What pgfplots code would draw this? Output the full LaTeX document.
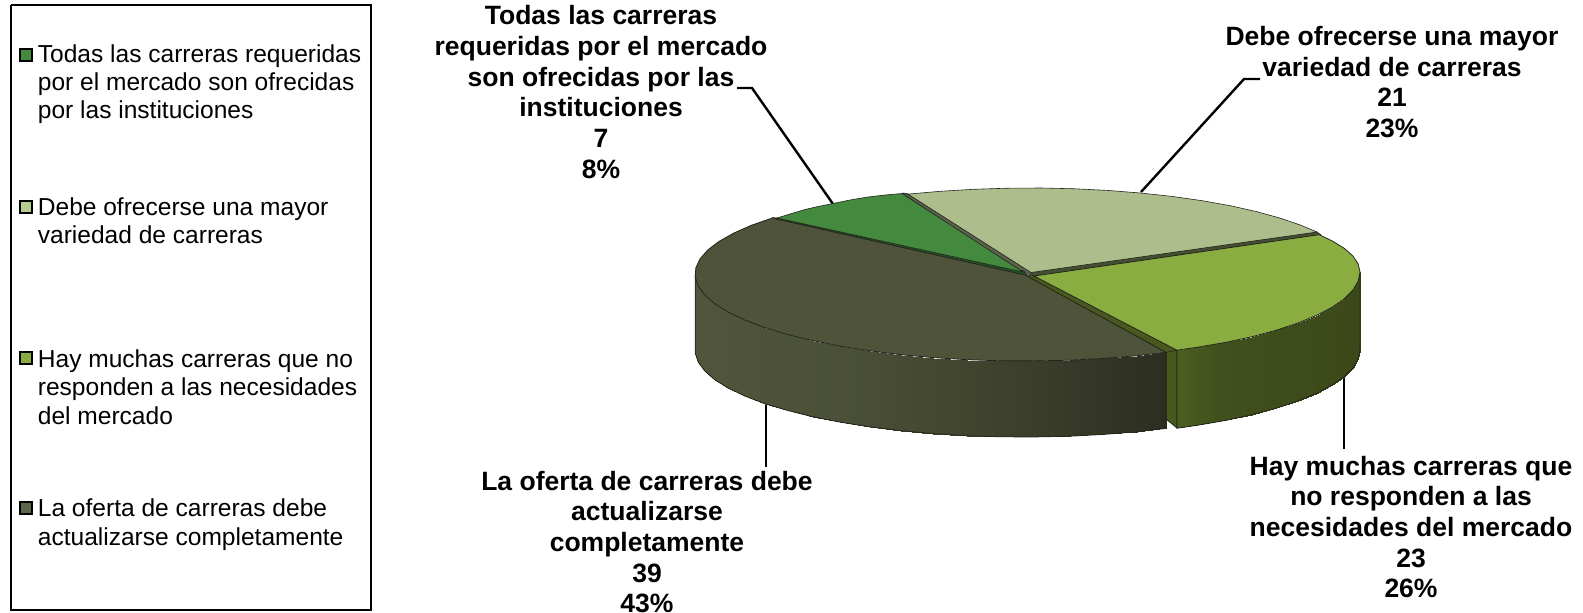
\documentclass[border=0pt]{standalone}
\usepackage{fontspec}
\setmainfont{Liberation Sans}
\usepackage{pgfplots}
\pgfplotsset{compat=1.18}
\definecolor{cT}{RGB}{67,137,62}
\definecolor{cL}{RGB}{173,189,140}
\definecolor{cG}{RGB}{138,173,65}
\definecolor{cD}{RGB}{78,83,57}
\definecolor{edge}{RGB}{35,38,28}
\tikzset{lab/.style={align=center, inner sep=0pt, font=\fontsize{13.25}{15.35}\selectfont\bfseries},
         leg/.style={anchor=west, align=left, inner sep=0pt, font=\fontsize{12.27}{14.15}\selectfont}}
\begin{document}
\begin{tikzpicture}
\clip (0,0) rectangle (791.5pt,306pt);
\begin{axis}[
  anchor=south west, at={(0pt,0pt)},
  width=791.5pt, height=306pt, scale only axis,
  xmin=0, xmax=1583, ymin=0, ymax=612, y dir=reverse,
  hide axis, clip=false,
  point meta min=695, point meta max=1360,
  colormap={pie}{rgb255(0pt)=(80,86,60) rgb255(155pt)=(74,79,55) rgb255(305pt)=(62,66,44) rgb255(473pt)=(43,46,32) rgb255(475pt)=(78,97,33) rgb255(525pt)=(65,80,28) rgb255(665pt)=(60,72,25)},
]
% legend frame
\addplot[draw=black, line width=1.1pt] coordinates {(11,5) (371,5) (371,610) (11,610) (11,5)};
% legend swatches
\addplot[only marks, mark=square*, mark size=3.1pt, mark options={fill=cT, draw=black, line width=.9pt}] coordinates {(26,55)};
\addplot[only marks, mark=square*, mark size=3.1pt, mark options={fill={rgb,255:red,183;green,204;blue,145}, draw=black, line width=.9pt}] coordinates {(26,207)};
\addplot[only marks, mark=square*, mark size=3.1pt, mark options={fill=cG, draw=black, line width=.9pt}] coordinates {(26,358)};
\addplot[only marks, mark=square*, mark size=3.1pt, mark options={fill={rgb,255:red,95;green,103;blue,75}, draw=black, line width=.9pt}] coordinates {(26,508)};
% leaders
\addplot[draw=black, line width=1.2pt] coordinates {(737,88) (752,88) (833,204)};
\addplot[draw=black, line width=1.2pt] coordinates {(1141,192) (1244,79) (1260,79)};
\addplot[draw=black, line width=1.2pt] coordinates {(1344,376) (1344,449)};
\addplot[draw=black, line width=1.2pt] coordinates {(766,402) (766,467)};
% green slice: cut face and side
\addplot[fill={rgb,255:red,70;green,88;blue,30}, draw=edge, line width=.4pt] coordinates {(1166,350.5) (1177,350.2) (1177,428) (1166,419) (1166,350.5)};
\addplot[patch, patch type=rectangle, shader=interp, point meta=x] coordinates {
(1360,272) (1358.2,281.1) (1358.2,359.1) (1360,350)
(1358.2,281.1) (1352.9,290.1) (1352.9,368.1) (1358.2,359.1)
(1352.9,290.1) (1344.1,298.9) (1344.1,376.9) (1352.9,368.1)
(1344.1,298.9) (1331.8,307.4) (1331.8,385.4) (1344.1,376.9)
(1331.8,307.4) (1316.3,315.5) (1316.3,393.5) (1331.8,385.4)
(1316.3,315.5) (1297.7,323.1) (1297.7,401.1) (1316.3,393.5)
(1297.7,323.1) (1276.3,330.2) (1276.3,408.2) (1297.7,401.1)
(1276.3,330.2) (1252.1,336.7) (1252.1,414.7) (1276.3,408.2)
(1252.1,336.7) (1225.6,342.4) (1225.6,420.4) (1252.1,414.7)
(1225.6,342.4) (1197,347.3) (1197,425.3) (1225.6,420.4)
(1197,347.3) (1176.9,350.2) (1176.9,428.2) (1197,425.3)
};
\addplot[draw=edge, line width=.4pt] coordinates {(1360,272) (1360,350) (1358.2,359.1) (1352.9,368.1) (1344.1,376.9) (1331.8,385.4) (1316.3,393.5) (1297.7,401.1) (1276.3,408.2) (1252.1,414.7) (1225.6,420.4) (1197,425.3) (1176.9,428.2) (1176.9,350.2)};
% thin walls between the slices
\addplot[fill={rgb,255:red,72;green,88;blue,30}, draw=edge, line width=.3pt] coordinates {(1034,275) (1177,350) (1166,352.4) (1024,275) (1034,275)};
\addplot[fill={rgb,255:red,70;green,78;blue,50}, draw=edge, line width=.3pt] coordinates {(1030,272) (1317,232) (1321,235) (1034,277) (1030,272)};
\addplot[fill={rgb,255:red,92;green,98;blue,78}, draw=edge, line width=.3pt] coordinates {(902,193) (907,193.5) (1032,273) (1027,278) (902,193)};
\addplot[fill={rgb,255:red,35;green,80;blue,40}, draw=edge, line width=.3pt] coordinates {(772,217.5) (777,218) (1024,271) (1027,276) (772,217.5)};
% top faces
\addplot[fill=cL, draw=edge, line width=.3pt] coordinates {(1031,272.5) (1317,232) (1300.3,225.0) (1279.7,218.0) (1256.5,211.6) (1230.7,205.8) (1202.8,200.8) (1172.9,196.5) (1141.5,193.1) (1108.9,190.5) (1075.4,188.8) (1041.4,188.0) (1007.2,188.2) (973.4,189.3) (940.2,191.3) (907.9,194.1) (1031,272.5)};
\addplot[fill=cG, draw=edge, line width=.4pt] coordinates {(1034,276) (1319,234.7) (1331.8,240.7) (1344.1,248.2) (1352.9,256.0) (1358.2,264.0) (1360,272) (1358.2,281.1) (1352.9,290.1) (1344.1,298.9) (1331.8,307.4) (1316.3,315.5) (1297.7,323.1) (1276.3,330.2) (1252.1,336.7) (1225.6,342.4) (1197,347.3) (1176.9,350.2) (1034,276)};
\addplot[fill=cT, draw=edge, line width=.3pt] coordinates {(1023,272) (777,218) (790,214) (805,209.5) (818,206.5) (833,203.5) (850,200) (868,197) (885,195) (902,193.5) (1023,272)};
% dark slice: side, then top face
\addplot[patch, patch type=rectangle, shader=interp, point meta=x] coordinates {
(695.8,267.9) (695.2,277.0) (695.2,353.0) (695.8,343.9)
(695.2,277.0) (698.2,286.1) (698.2,362.1) (695.2,353.0)
(698.2,286.1) (704.8,295.0) (704.8,371.0) (698.2,362.1)
(704.8,295.0) (714.8,303.8) (714.8,379.8) (704.8,371.0)
(714.8,303.8) (728.3,312.1) (728.3,388.1) (714.8,379.8)
(728.3,312.1) (745.0,320.1) (745.0,396.1) (728.3,388.1)
(745.0,320.1) (764.7,327.6) (764.7,403.6) (745.0,396.1)
(764.7,327.6) (787.3,334.4) (787.3,410.4) (764.7,403.6)
(787.3,334.4) (812.5,340.6) (812.5,416.6) (787.3,410.4)
(812.5,340.6) (840.0,346.1) (840.0,422.1) (812.5,416.6)
(840.0,346.1) (869.5,350.8) (869.5,426.8) (840.0,422.1)
(869.5,350.8) (900.8,354.7) (900.8,430.7) (869.5,426.8)
(900.8,354.7) (933.3,357.6) (933.3,433.6) (900.8,430.7)
(933.3,357.6) (966.9,359.7) (966.9,435.7) (933.3,433.6)
(966.9,359.7) (1001.0,360.8) (1001.0,436.8) (966.9,435.7)
(1001.0,360.8) (1035.5,360.9) (1035.5,436.9) (1001.0,436.8)
(1035.5,360.9) (1069.8,360.2) (1069.8,436.2) (1035.5,436.9)
(1069.8,360.2) (1103.6,358.4) (1103.6,434.4) (1069.8,436.2)
(1103.6,358.4) (1136.5,355.8) (1136.5,431.8) (1103.6,434.4)
(1136.5,355.8) (1166,352.4) (1166,428.4) (1136.5,431.8)
};
\addplot[draw=edge, line width=.4pt] coordinates {(695.2,275) (695.2,353.0) (698.2,362.1) (704.8,371.0) (714.8,379.8) (728.3,388.1) (745.0,396.1) (764.7,403.6) (787.3,410.4) (812.5,416.6) (840.0,422.1) (869.5,426.8) (900.8,430.7) (933.3,433.6) (966.9,435.7) (1001.0,436.8) (1035.5,436.9) (1069.8,436.2) (1103.6,434.4) (1136.5,431.8) (1166,428.4) (1166,352.4)};
\addplot[fill=cD, draw=edge, line width=.4pt] coordinates {(1025,275) (772.0,218.1) (751.3,225.3) (733.5,233.2) (719.0,241.4) (707.7,250.0) (700.0,258.9) (695.8,267.9) (695.2,277.0) (698.2,286.1) (704.8,295.0) (714.8,303.8) (728.3,312.1) (745.0,320.1) (764.7,327.6) (787.3,334.4) (812.5,340.6) (840.0,346.1) (869.5,350.8) (900.8,354.7) (933.3,357.6) (966.9,359.7) (1001.0,360.8) (1035.5,360.9) (1069.8,360.2) (1103.6,358.4) (1136.5,355.8) (1166,352.4) (1025,275)};
% legend text
\node[leg] at (axis cs:37.5,84) {Todas las carreras requeridas\\por el mercado son ofrecidas\\por las instituciones};
\node[leg] at (axis cs:37.5,220.5) {Debe ofrecerse una mayor\\variedad de carreras};
\node[leg] at (axis cs:37.5,387) {Hay muchas carreras que no\\responden a las necesidades\\del mercado};
\node[leg] at (axis cs:37.5,524.5) {La oferta de carreras debe\\actualizarse completamente};
% data labels
\node[lab] at (axis cs:601,92) {Todas las carreras\\requeridas por el mercado\\son ofrecidas por las\\instituciones\\7\\8\%};
\node[lab] at (axis cs:1392,82) {Debe ofrecerse una mayor\\variedad de carreras\\21\\23\%};
\node[lab] at (axis cs:1411,527) {Hay muchas carreras que\\no responden a las\\necesidades del mercado\\23\\26\%};
\node[lab] at (axis cs:647,542) {La oferta de carreras debe\\actualizarse\\completamente\\39\\43\%};
\end{axis}
\end{tikzpicture}
\end{document}
